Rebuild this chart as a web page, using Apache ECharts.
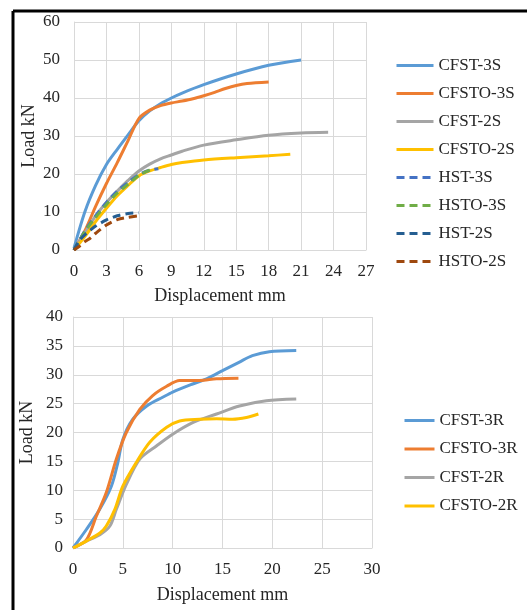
<!DOCTYPE html>
<html>
<head>
<meta charset="utf-8">
<script src="https://cdn.jsdelivr.net/npm/echarts@6/dist/echarts.min.js"></script>
<style>
html,body{margin:0;padding:0;background:#fff;}
#c{width:527px;height:610px;}
</style>
</head>
<body>
<div id="c"></div>
<script>
// ---- Top chart (S series) ----
const topXTicks = [0, 27, 3];   // min, max, interval
const topYTicks = [0, 60, 10];
const CFST_3S  = [[0,0.5],[1,10],[2,17],[3,22.5],[4,26.5],[5,30.3],[6,34],[7,36.6],[8,38.5],[9,40],[10,41.3],[12,43.5],[15,46.3],[18,48.6],[21,50]];
const CFSTO_3S = [[0,0],[1,5],[2,11.5],[3,17.5],[4,23],[5,28.8],[6,34.6],[7,36.8],[8,38],[9,38.7],[10,39.2],[11,39.8],[12,40.6],[13,41.5],[14,42.5],[15,43.3],[16,43.8],[18,44.2]];
const CFST_2S  = [[0,0],[1,4.5],[2,9],[3,12.5],[4,15.5],[5,18.3],[6,20.8],[7,22.6],[8,24],[9,25],[10,26],[12,27.6],[15,29],[18,30.2],[21,30.8],[23.5,31]];
const CFSTO_2S = [[0,0],[1,3.5],[2,7.5],[3,11],[4,14.3],[5,17],[6,19.5],[7,20.8],[8,21.7],[9,22.5],[10,23],[12,23.7],[15,24.3],[18,24.8],[20,25.2]];
const HST_3S   = [[0,0],[1,5],[2,9],[3,12.5],[4,15.5],[5,17.8],[6,19.8],[7,21],[7.8,21.4]];
const HSTO_3S  = [[0,0],[1,4.8],[2,8.6],[3,12],[4,15],[5,17.3],[6,19.6],[7,21],[7.4,21.2]];
const HST_2S   = [[0,0],[0.5,2.5],[1,4],[1.5,5.2],[2,6.3],[3,7.9],[4,9],[5,9.6],[6,9.8]];
const HSTO_2S  = [[0,0],[0.5,1],[1,2.2],[1.5,3.1],[2,4.4],[3,6.6],[4,8],[5,8.6],[6,9]];
const topNames = ['CFST-3S','CFSTO-3S','CFST-2S','CFSTO-2S','HST-3S','HSTO-3S','HST-2S','HSTO-2S'];

// ---- Bottom chart (R series) ----
const botXTicks = [0, 30, 5];
const botYTicks = [0, 40, 5];
const CFST_3R  = [[0,0],[1.34,3.2],[2.68,6.7],[3.85,10.7],[4.5,14.8],[5,18.8],[6,22.3],[7.4,24.6],[9,26.1],[10,27],[12,28.4],[13.4,29.3],[15,30.7],[16.7,32.2],[18,33.3],[19.7,34],[22.4,34.2]];
const CFSTO_3R = [[0,0],[1.34,1.4],[2.34,5.5],[3.34,9.6],[4.35,15.4],[5.35,20],[6.7,24],[8,26.4],[9.4,28],[10.7,29],[12.7,29],[14.4,29.3],[16.6,29.4]];
const CFST_2R  = [[0,0],[1.34,1.2],[2.7,2.3],[3.7,3.8],[4.35,6.7],[5.35,11],[6.7,15.4],[8.4,17.7],[10,19.7],[12,21.7],[14.4,23.2],[16.7,24.6],[19.4,25.5],[22.4,25.8]];
const CFSTO_2R = [[0,0],[1.34,1.2],[2.7,2.6],[3.34,3.8],[4.2,6.7],[5,10.7],[6.35,14.8],[7.7,18.3],[9.4,20.9],[10.7,22],[12.7,22.3],[14.4,22.4],[16,22.3],[17.4,22.6],[18.6,23.2]];
const botNames = ['CFST-3R','CFSTO-3R','CFST-2R','CFSTO-2R'];

const FONT = 'Liberation Serif';
const TXT = '#262626';
const GRIDC = '#d9d9d9';

function line(name, data, color, idx, dashed) {
  return {
    name: name, type: 'line', data: data, xAxisIndex: idx, yAxisIndex: idx,
    showSymbol: false, symbol: 'none', smooth: 0.3,
    lineStyle: { color: color, width: 3, type: dashed ? [8, 5] : 'solid', cap: 'butt' },
    itemStyle: { color: color }, z: dashed ? 3 : 2
  };
}

function xAxis(idx, t, gap) {
  return {
    gridIndex: idx, type: 'value', min: t[0], max: t[1], interval: t[2],
    name: 'Displacement mm', nameLocation: 'middle', nameGap: gap, nameMoveOverlap: false,
    nameTextStyle: { fontFamily: FONT, fontSize: 18, color: TXT },
    axisLine: { show: true, lineStyle: { color: GRIDC, width: 1 } },
    axisTick: { show: false },
    axisLabel: { fontFamily: FONT, fontSize: 17, color: TXT, margin: 13 },
    splitLine: { show: true, lineStyle: { color: GRIDC, width: 1 } }
  };
}
function yAxis(idx, t, gap, margin) {
  return {
    gridIndex: idx, type: 'value', min: t[0], max: t[1], interval: t[2],
    name: 'Load kN', nameLocation: 'middle', nameGap: gap, nameRotate: 90, nameMoveOverlap: false,
    nameTextStyle: { fontFamily: FONT, fontSize: 18, color: TXT },
    axisLine: { show: true, lineStyle: { color: GRIDC, width: 1 } },
    axisTick: { show: false },
    axisLabel: { fontFamily: FONT, fontSize: 17, color: TXT, margin: margin },
    splitLine: { show: true, lineStyle: { color: GRIDC, width: 1 } }
  };
}

const chart = echarts.init(document.getElementById('c'), null, { renderer: 'canvas' });
chart.setOption({
  backgroundColor: '#fff',
  animation: false,
  grid: [
    { left: 74, top: 22, width: 292, height: 228 },
    { left: 73, top: 317, width: 299, height: 231 }
  ],
  xAxis: [xAxis(0, topXTicks, 37), xAxis(1, botXTicks, 38)],
  yAxis: [yAxis(0, topYTicks, 36, 14), yAxis(1, botYTicks, 37, 10)],
  legend: [
    { data: topNames, orient: 'vertical', left: 390, top: 52, itemWidth: 37, itemHeight: 14, itemGap: 11,
      itemStyle: { opacity: 0 }, lineStyle: { width: 3 },
      textStyle: { fontFamily: FONT, fontSize: 17, color: TXT } },
    { data: botNames, orient: 'vertical', left: 398, top: 407, itemWidth: 30, itemHeight: 14, itemGap: 11.5,
      itemStyle: { opacity: 0 }, lineStyle: { width: 3 },
      textStyle: { fontFamily: FONT, fontSize: 17, color: TXT } }
  ],
  graphic: [
    { type: 'line', shape: { x1: 13, y1: 11, x2: 527, y2: 11 }, style: { stroke: '#000', lineWidth: 3 } },
    { type: 'line', shape: { x1: 13, y1: 11, x2: 13, y2: 610 }, style: { stroke: '#000', lineWidth: 3 } }
  ],
  series: [
    line(topNames[0], CFST_3S, '#5B9BD5', 0, false),
    line(topNames[1], CFSTO_3S, '#ED7D31', 0, false),
    line(topNames[2], CFST_2S, '#A5A5A5', 0, false),
    line(topNames[3], CFSTO_2S, '#FFC000', 0, false),
    line(topNames[4], HST_3S, '#4472C4', 0, true),
    line(topNames[5], HSTO_3S, '#70AD47', 0, true),
    line(topNames[6], HST_2S, '#255E91', 0, true),
    line(topNames[7], HSTO_2S, '#9E480E', 0, true),
    line(botNames[0], CFST_3R, '#5B9BD5', 1, false),
    line(botNames[1], CFSTO_3R, '#ED7D31', 1, false),
    line(botNames[2], CFST_2R, '#A5A5A5', 1, false),
    line(botNames[3], CFSTO_2R, '#FFC000', 1, false)
  ]
});
</script>
</body>
</html>
